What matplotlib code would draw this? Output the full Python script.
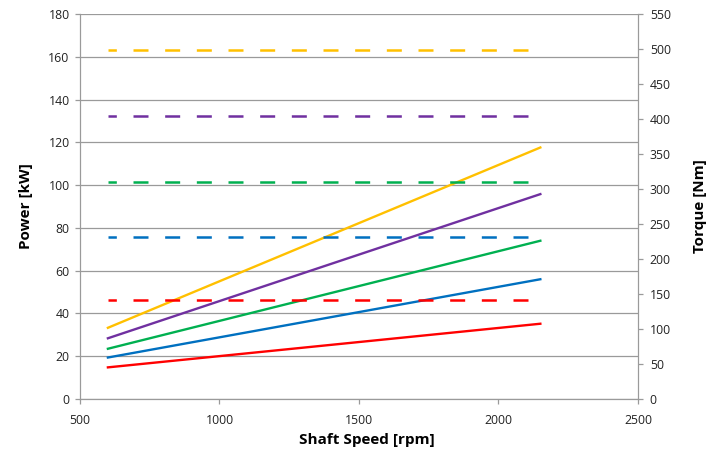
import matplotlib
matplotlib.use("Agg")
import matplotlib.pyplot as plt

plt.rcParams['font.family'] = ['Open Sans', 'DejaVu Sans']
plt.rcParams['lines.scale_dashes'] = False

# shaft speed range of each curve [rpm]
speed = [600, 2150]

# solid lines: power [kW] at start / end speed
power_red = [14.8, 35.2]
power_blue = [19.4, 56.0]
power_green = [23.5, 74.0]
power_purple = [28.4, 95.8]
power_yellow = [33.3, 117.6]

# dashed lines: torque [Nm], constant over speed
torque_red = [141, 141]
torque_blue = [232, 232]
torque_green = [310, 310]
torque_purple = [404, 404]
torque_yellow = [499, 499]

colors = {'red': '#FF0000', 'blue': '#0070C0', 'green': '#00B050',
          'purple': '#7030A0', 'yellow': '#FFC000'}
grid_col = '#9A9A9A'

fig = plt.figure(figsize=(7.13, 4.54), dpi=100)
ax = fig.add_axes([0.1122, 0.1211, 0.7826, 0.848])
ax2 = ax.twinx()

ax.plot(speed, power_red, color=colors['red'], lw=1.7)
ax.plot(speed, power_blue, color=colors['blue'], lw=1.7)
ax.plot(speed, power_green, color=colors['green'], lw=1.7)
ax.plot(speed, power_purple, color=colors['purple'], lw=1.7)
ax.plot(speed, power_yellow, color=colors['yellow'], lw=1.7)

dash = (4.8, (10.8, 12.0))
for vals, c in [(torque_red, 'red'), (torque_blue, 'blue'), (torque_green, 'green'),
                (torque_purple, 'purple'), (torque_yellow, 'yellow')]:
    ax2.plot(speed, vals, color=colors[c], lw=1.8, linestyle=dash)

ax.set_xlim(500, 2500)
ax.set_ylim(0, 180)
ax.set_xticks(range(500, 2501, 500))
ax.set_yticks(range(0, 181, 20))
ax2.set_ylim(0, 550)
ax2.set_yticks(range(0, 551, 50))

ax.grid(axis='y', color=grid_col, lw=0.9)
ax.set_axisbelow(True)

for a in (ax, ax2):
    for s in a.spines.values():
        s.set_color(grid_col)
    a.spines['top'].set_visible(False)
    a.tick_params(colors=grid_col, labelcolor='#222222', labelsize=8.8, length=3.5, width=0.9)
ax.tick_params(axis='y', pad=4)
ax.tick_params(axis='x', pad=7)
ax2.tick_params(axis='y', pad=5)

ax.set_xlabel('Shaft Speed [rpm]', fontsize=11, fontweight='bold')
ax.xaxis.set_label_coords(0.514, -0.087)
ax.set_ylabel('Power [kW]', fontsize=11, fontweight='bold', labelpad=11)
ax2.set_ylabel('Torque [Nm]', fontsize=11, fontweight='bold', labelpad=16)

fig.savefig('out.png', dpi=100)
